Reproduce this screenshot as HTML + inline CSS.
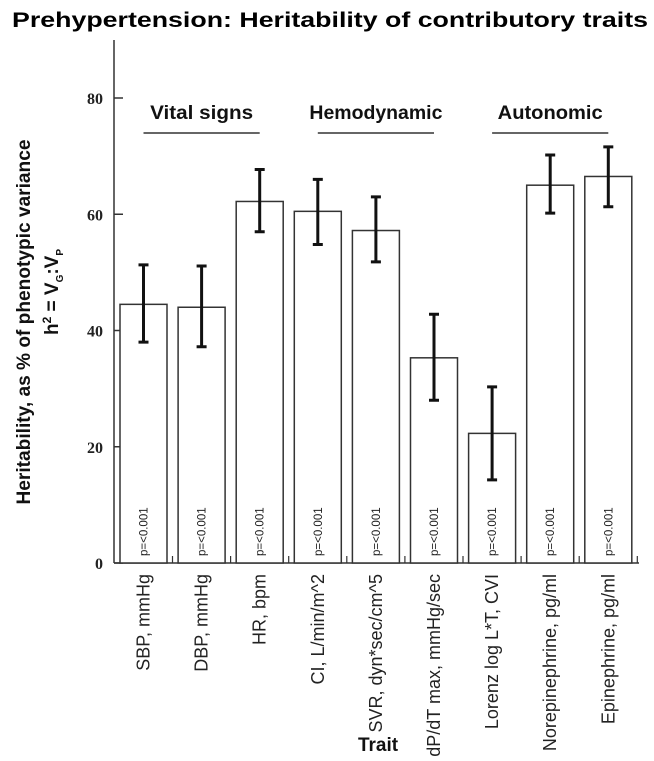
<!DOCTYPE html>
<html><head><meta charset="utf-8"><style>
body{margin:0;background:#fff}
svg{display:block;font-family:"Liberation Sans",Arial,sans-serif}
</style></head><body>
<svg id="c" width="654" height="761" viewBox="0 0 654 761">
<text x="12" y="27" font-size="21" font-weight="bold" textLength="636" lengthAdjust="spacingAndGlyphs">Prehypertension: Heritability of contributory traits</text>
<g id="g"></g>
</svg>
<script>
const categories=["SBP, mmHg","DBP, mmHg","HR, bpm","CI, L/min/m^2","SVR, dyn*sec/cm^5","dP/dT max, mmHg/sec","Lorenz log L*T, CVI","Norepinephrine, pg/ml","Epinephrine, pg/ml"];
const values=[44.5,44,62.2,60.5,57.2,35.3,22.3,65,66.5];
const errLow=[38,37.2,57,54.8,51.8,28,14.3,60.2,61.3];
const errHigh=[51.3,51.1,67.7,66,63,42.8,30.3,70.2,71.6];
const pLabels=["p=<0.001","p=<0.001","p=<0.001","p=<0.001","p=<0.001","p=<0.001","p=<0.001","p=<0.001","p=<0.001"];
const yTicks=[0,20,40,60,80];
const groups=["Vital signs","Hemodynamic","Autonomic"];
const groupStart=[0,3,6];
const groupEnd=[2,5,8];
const groupTextLen=[103,133,105];

const NS="http://www.w3.org/2000/svg",g=document.getElementById("g");
const y0=563,yPer=465/80,x0=114,pitch=58.1,bw=47,firstL=120;
const y=v=>y0-v*yPer;
const xl=i=>firstL+i*pitch;
const xc=i=>xl(i)+bw/2;
function mk(t,a,txt){const e=document.createElementNS(NS,t);for(const k in a)e.setAttribute(k,a[k]);if(txt!=null)e.textContent=txt;g.appendChild(e);return e;}

let e=mk("line",{x1:x0,y1:40,x2:x0,y2:y0,stroke:"#333","stroke-width":1.5});


e=mk("line",{x1:x0,y1:y0,x2:639,y2:y0,stroke:"#333","stroke-width":1.5});


yTicks.forEach(t=>{
 let l=mk("line",{x1:x0,y1:y(t),x2:x0+9,y2:y(t),stroke:"#333","stroke-width":1.5});
 
 
 let tx=mk("text",{x:103,y:y(t)+6,"text-anchor":"end","font-size":16,"font-weight":"bold",fill:"#222","font-family":"Liberation Serif,serif"},t);
 
 
});
categories.forEach((c,i)=>{
 let tk=mk("line",{x1:xl(i)+bw+5.5,y1:y0,x2:xl(i)+bw+5.5,y2:y0-7,stroke:"#333","stroke-width":1.2});
 
 
 let b=mk("rect",{x:xl(i),y:y(values[i]),width:bw,height:y0-y(values[i]),fill:"#fff",stroke:"#333","stroke-width":1.5});
 
 
 let er=mk("path",{d:`M${xc(i)},${y(errLow[i])}V${y(errHigh[i])}M${xc(i)-5},${y(errLow[i])}h10M${xc(i)-5},${y(errHigh[i])}h10`,stroke:"#111","stroke-width":3,fill:"none"});
 
 
 let p=mk("text",{transform:`translate(${xc(i)+4},556) rotate(-90)`,"font-size":11.5,fill:"#222"},pLabels[i]);
 
 
 let lb=mk("text",{transform:`translate(${xc(i)+6},574) rotate(-90)`,"text-anchor":"end","font-size":18,fill:"#222"},c);
 
 
});
groups.forEach((n,k)=>{
 const a=xc(groupStart[k]),b=xc(groupEnd[k]);
 let t=mk("text",{x:(a+b)/2,y:119,"text-anchor":"middle","font-size":19,"font-weight":"bold",fill:"#111",textLength:groupTextLen[k],lengthAdjust:"spacingAndGlyphs"},n);
 
 
 let l=mk("line",{x1:a,y1:133,x2:b,y2:133,stroke:"#333","stroke-width":1.5});
 
 
});
let yt=mk("text",{transform:"translate(30,322) rotate(-90)","text-anchor":"middle","font-size":19,"font-weight":"bold",fill:"#111",textLength:365,lengthAdjust:"spacingAndGlyphs"},"Heritability, as % of phenotypic variance");


let f=mk("text",{transform:"translate(58,292) rotate(-90)","text-anchor":"middle","font-size":19,"font-weight":"bold",fill:"#111"});
f.innerHTML='h<tspan dy="-7" font-size="12">2</tspan><tspan dy="7"> = V</tspan><tspan dy="5" font-size="10">G</tspan><tspan dy="-5">:V</tspan><tspan dy="5" font-size="10">P</tspan>';


let xt=mk("text",{x:378,y:751,"text-anchor":"middle","font-size":19,"font-weight":"bold",fill:"#111"},"Trait");


</script>
</body></html>
